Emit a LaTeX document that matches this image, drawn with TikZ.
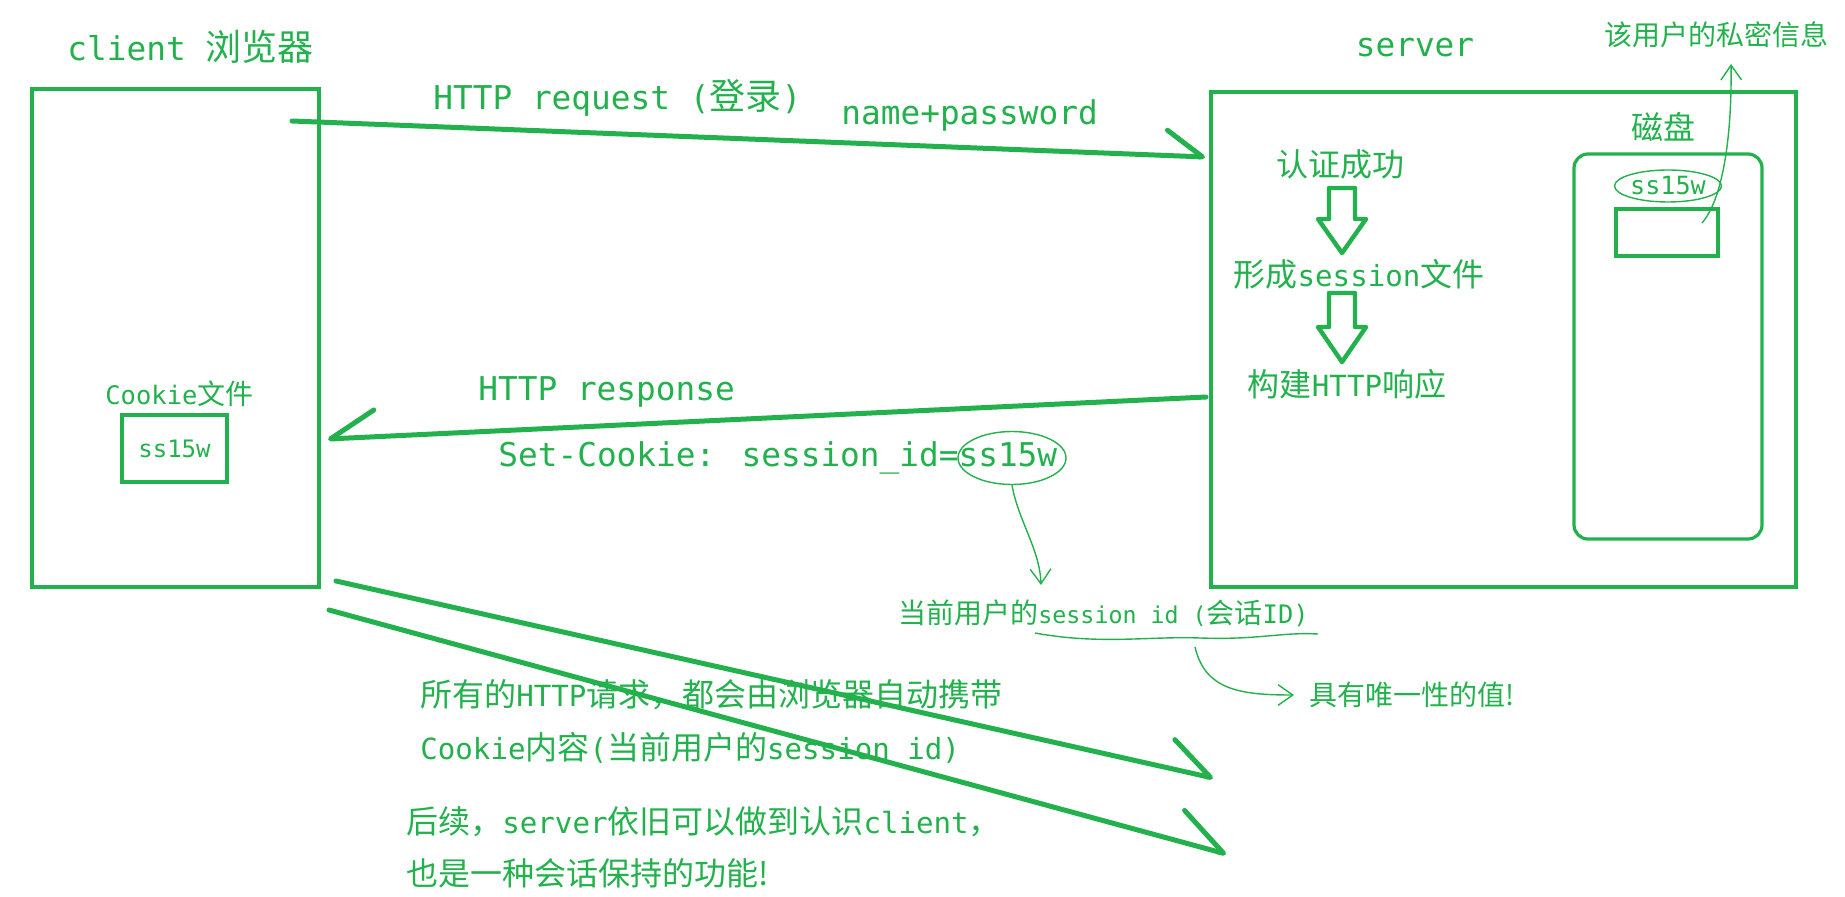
\documentclass[tikz,border=0pt]{standalone}
\usepackage{fontspec}
\setmainfont[Scale=0.91]{DejaVu Sans Mono}
\newfontfamily\zhfont{Noto Sans CJK SC}
\newcommand{\zh}[1]{{\zhfont #1}}
\usepackage{xcolor}
\definecolor{paintgreen}{RGB}{34,177,76}
\usepackage{tikz}
\usetikzlibrary{shapes.geometric,arrows.meta,positioning}

\begin{document}
\begin{tikzpicture}[%
      x=0.5pt, y=-0.5pt,
      every node/.style={inner sep=0pt, text=paintgreen},
      bigtext/.style={font=\fontsize{18}{20}\selectfont},
      midtext/.style={font=\fontsize{16}{19}\selectfont},
      smalltext/.style={font=\fontsize{14}{17}\selectfont},
      frame/.style={draw=paintgreen, line width=2.3pt, outer sep=0pt, anchor=north west},
      slot/.style={draw=paintgreen, line width=1.6pt, outer sep=0pt, anchor=north west},
      thinline/.style={draw=paintgreen, line width=0.7pt},
      heavy/.style={draw=paintgreen, line width=2.5pt, line cap=round},
      thinarrow/.style={thinline, -{Straight Barb[angle=70:9pt]}},
      blockarrow/.style={draw=paintgreen, line width=2.2pt, line join=round}]
      \useasboundingbox (0,0) rectangle (1845,897);

      % browser side
      \node[frame, minimum width=143.5pt, minimum height=249pt] (client) at (32,89) {};
      \node[bigtext, anchor=west] (clientlbl) at (67,47) {client \zh{浏览器}};
      \node[smalltext, anchor=west] (cookielbl) at (105,394) {Cookie\zh{文件}};
      \node[slot, minimum width=52.5pt, minimum height=33.5pt,
        font=\fontsize{13.2}{15}\selectfont] (cookiebox) at (122,415) {ss15w};

      % server side
      \node[frame, minimum width=292.5pt, minimum height=247.5pt] (server) at (1211,92) {};
      \node[bigtext] (serverlbl) at (1415,48) {server};
      \node[midtext] (auth) at (1340,164) {\zh{认证成功}};
      \node[midtext] (mkfile) at (1359,274) {\zh{形成}session\zh{文件}};
      \node[midtext] (build) at (1347,384) {\zh{构建}HTTP\zh{响应}};
      \foreach \ya/\yh/\ye in {188/31/65, 293/34/69}
        \draw[blockarrow] (1329,\ya) -- (1355,\ya) -- (1355,{\ya+\yh}) -- (1366,{\ya+\yh})
          -- (1342,{\ya+\ye}) -- (1318,{\ya+\yh}) -- (1329,{\ya+\yh}) -- cycle;

      % disk
      \node[slot, rounded corners=7pt, minimum width=94pt, minimum height=192.5pt] (disk) at (1574,154) {};
      \node[midtext] (disklbl) at (1663,127) {\zh{磁盘}};
      \node[ellipse, thinline, minimum width=42pt, minimum height=16pt,
        font=\fontsize{13.8}{16}\selectfont] (diskid) at (1668,186) {ss15w};
      \node[slot, minimum width=51pt, minimum height=23.5pt] (diskslot) at (1616,209) {};
      \node[smalltext, anchor=west] (secret) at (1604,35) {\zh{该用户的私密信息}};
      \coordinate (slotpt) at (1702,223);
      \coordinate (secrettip) at (1731,64);
      \draw[thinarrow] (slotpt) .. controls (1722,200) and (1732,140) .. (secrettip);

      % request
      \node[bigtext, anchor=west] (reqlbl) at (433,98) {HTTP request (\zh{登录})};
      \node[bigtext, anchor=west] (cred) at (841,115) {name+password};
      \coordinate (reqfrom) at (292,121);
      \coordinate (reqto) at (1205,157);
      \draw[heavy, -{Straight Barb[harpoon, round, angle=70:22pt]}] (reqfrom) -- (reqto);

      % response
      \node[bigtext, anchor=west] (resplbl) at (478,392) {HTTP response};
      \node[bigtext, anchor=west] (setcookie) at (498,458) {Set-Cookie: session\_id=ss15w};
      \coordinate (respfrom) at (1206,397);
      \coordinate (respto) at (328,439);
      \draw[heavy, -{Straight Barb[harpoon, swap, round, angle=62:26pt]}] (respfrom) -- (respto);
      \node[ellipse, thinline, minimum width=54pt, minimum height=26.5pt] (sidmark) at (1012,458) {};

      % session id notes
      \node[smalltext, anchor=west] (sidnote) at (898,613)
        {\zh{当前用户的}{\fontsize{12.8}{15}\selectfont session id (}\zh{会话}ID)};
      \draw[thinline] (1035,633) .. controls (1100,645) and (1150,636) .. (1200,638)
        .. controls (1260,640) and (1280,632) .. (1318,634);
      \coordinate (sidtip) at (1041,585);
      \draw[thinarrow] (sidmark.south) .. controls (1018,520) and (1040,550) .. (sidtip);
      \node[smalltext, anchor=west] (unique) at (1309,695) {\zh{具有唯一性的值!}};
      \coordinate (uniquefrom) at (1195,647);
      \coordinate (uniqueto) at (1294,695);
      \draw[thinarrow] (uniquefrom) .. controls (1205,690) and (1240,695) .. (uniqueto);

      % later requests
      \coordinate (laterfrom) at (336,581);
      \coordinate (laterto) at (1213,778);
      \coordinate (againfrom) at (329,610);
      \coordinate (againto) at (1226,854);
      \draw[heavy, -{Straight Barb[harpoon, round, angle=68:26pt]}] (laterfrom) -- (laterto);
      \draw[heavy, -{Straight Barb[harpoon, round, angle=65:29pt]}] (againfrom) -- (againto);
      \node[midtext, anchor=west] (carry1) at (420,695) {\zh{所有的}HTTP\zh{请求，都会由浏览器自动携带}};
      \node[midtext, anchor=west] (carry2) at (420,748) {Cookie\zh{内容}(\zh{当前用户的}session id)};
      \node[midtext, anchor=west] (keep1) at (406,822) {\zh{后续，}server\zh{依旧可以做到认识}client\zh{，}};
      \node[midtext, anchor=west] (keep2) at (406,873) {\zh{也是一种会话保持的功能!}};
\end{tikzpicture}
\end{document}
